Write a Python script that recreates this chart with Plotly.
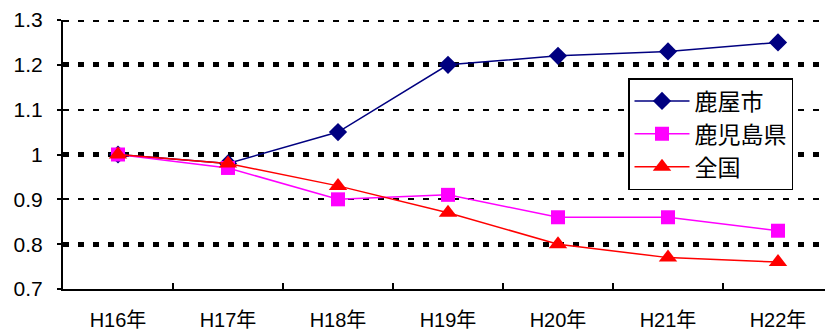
import plotly.graph_objects as go

categories = ["H16年", "H17年", "H18年", "H19年", "H20年", "H21年", "H22年"]
kanoya = [1.0, 0.98, 1.05, 1.2, 1.22, 1.23, 1.25]
kagoshima = [1.0, 0.97, 0.90, 0.91, 0.86, 0.86, 0.83]
zenkoku = [1.0, 0.98, 0.93, 0.87, 0.80, 0.77, 0.76]
y_ticks = [0.7, 0.8, 0.9, 1.0, 1.1, 1.2, 1.3]
y_labels = ["0.7", "0.8", "0.9", "1", "1.1", "1.2", "1.3"]
grid_dash_vals = [0.9, 1.1]
grid_top_vals = [1.3]
grid_dot_vals = [0.8, 1.0, 1.2]
y_range = [0.7, 1.3]

FONT = "Liberation Sans, Arial, Noto Sans CJK JP, sans-serif"

fig = go.Figure()
# helper (empty) traces so the overlay grid axes are drawn
for ax in ["y2", "y3", "y4"]:
    fig.add_trace(go.Scatter(x=[], y=[], yaxis=ax, showlegend=False, hoverinfo="skip"))
fig.add_trace(go.Scatter(x=categories, y=kanoya, name="鹿屋市", mode="lines+markers",
                         line=dict(color="#000080", width=1.5),
                         marker=dict(symbol="diamond", size=14, color="#000080")))
fig.add_trace(go.Scatter(x=categories, y=kagoshima, name="鹿児島県", mode="lines+markers",
                         line=dict(color="#FF00FF", width=1.5),
                         marker=dict(symbol="square", size=14, color="#FF00FF")))
fig.add_trace(go.Scatter(x=categories, y=zenkoku, name="全国", mode="lines+markers",
                         line=dict(color="#FF0000", width=1.5),
                         marker=dict(symbol="triangle-up", size=16, color="#FF0000")))

grid_common = dict(overlaying="y", showticklabels=False, showgrid=True, gridcolor="black",
                   zeroline=False, showline=False, ticks="")

# page body has an 8px default margin; compensate so the plot sits where the reference has it
fig.update_layout(
    width=825, height=323,
    margin=dict(l=55, r=0, t=12, b=42),
    plot_bgcolor="white", paper_bgcolor="white",
    font=dict(family=FONT, size=20, color="black"),
    xaxis=dict(type="category", showline=True, linecolor="black", linewidth=2,
               ticks="inside", ticklen=6, tickwidth=1.5, tickcolor="black",
               tickson="boundaries", showgrid=False, zeroline=False,
               ticklabelstandoff=12,
               range=[-0.5, 6.5], tickfont=dict(size=20)),
    yaxis=dict(range=y_range, tickvals=y_ticks, ticktext=y_labels,
               showline=True, linecolor="black", linewidth=2,
               ticks="outside", ticklen=4, tickwidth=2, tickcolor="black",
               ticklabelstandoff=10,
               showgrid=False, zeroline=False, tickfont=dict(size=21)),
    yaxis2=dict(range=y_range, tickvals=grid_dash_vals, gridwidth=2,
                griddash="6px,9px", **grid_common),
    yaxis3=dict(range=y_range, tickvals=grid_dot_vals, gridwidth=4.5,
                griddash="6px,9px", **grid_common),
    yaxis4=dict(range=[y_range[0], y_range[1] + 0.0025], tickvals=grid_top_vals, gridwidth=2,
                griddash="6px,9px", **grid_common),
    legend=dict(x=(628 - 63) / 770, y=1 - (78 - 20) / 269, xanchor="left", yanchor="top",
                bgcolor="white", bordercolor="black", borderwidth=1.5,
                font=dict(size=23, family="Noto Sans CJK JP, sans-serif"),
                tracegroupgap=0, itemwidth=55),
    showlegend=True,
)
fig.write_html("out.html")
